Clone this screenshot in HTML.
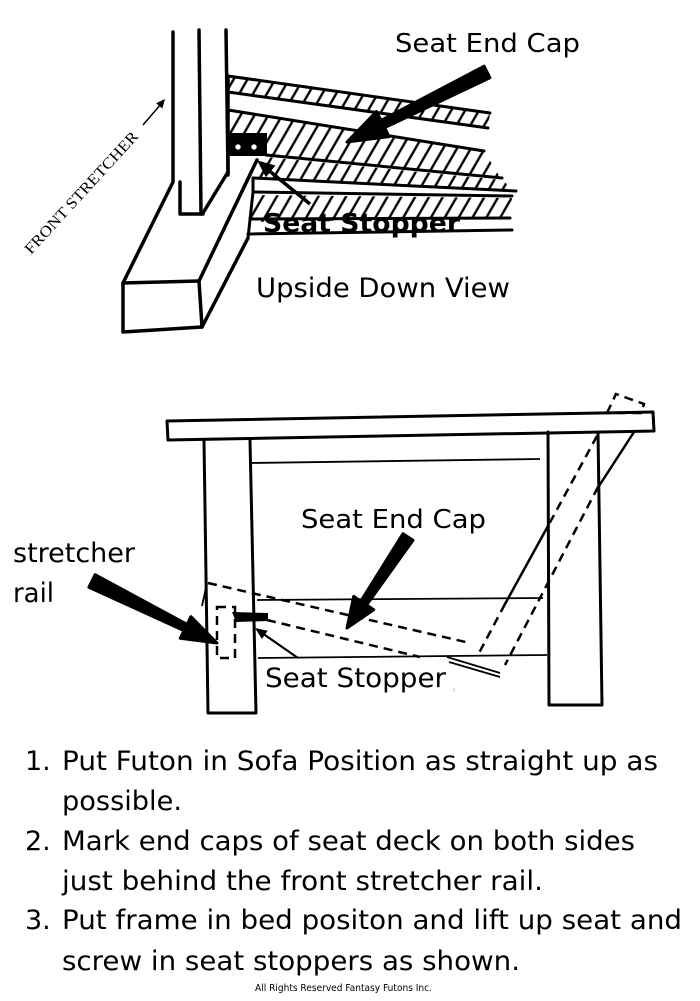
<!DOCTYPE html>
<html><head><meta charset="utf-8">
<style>
html,body{margin:0;padding:0;background:#fff;}
svg{display:block;}
text{font-family:"DejaVu Sans","Liberation Sans",sans-serif;fill:#000;}
</style></head><body>
<svg width="700" height="1001" viewBox="0 0 700 1001" xmlns="http://www.w3.org/2000/svg">
<defs>
<pattern id="h" width="12" height="12" patternUnits="userSpaceOnUse" patternTransform="rotate(30)">
<line x1="2" y1="-1" x2="2" y2="13" stroke="#000" stroke-width="2.4"/>
</pattern>
</defs>
<rect width="700" height="1001" fill="#fff"/>

<!-- ===== TOP DIAGRAM ===== -->
<g fill="url(#h)" stroke="none">
<polygon points="228,76 490,113 488,128 228,92"/>
<polygon points="228,110 484,151 500,177 266,154 228,138"/>
<polygon points="266,157 502,180 515,191 254,178"/>
<polygon points="256,195 512,198 510,218 250,222"/>
</g>
<g stroke="#000" stroke-linecap="round" stroke-linejoin="round" fill="none" stroke-width="3">
<line x1="228" y1="76" x2="490" y2="113"/>
<line x1="228" y1="92" x2="488" y2="128"/>
<line x1="228" y1="110" x2="484" y2="151"/>
<line x1="266" y1="155" x2="502" y2="178"/>
<line x1="253" y1="178" x2="516" y2="191"/>
<line x1="253" y1="192" x2="512" y2="196"/>
<polyline points="253,178 253,192 248,238"/>
<line x1="250" y1="219" x2="510" y2="218"/>
<line x1="248" y1="234" x2="512" y2="230"/>
</g>
<g stroke="#000" stroke-linecap="round" stroke-linejoin="round" fill="none" stroke-width="3.5">
<polyline points="173,32 173,182 123,283"/>
<line x1="199" y1="30" x2="201" y2="214"/>
<polyline points="226,30 228,172 203,213"/>
<polyline points="180,182 180,214 203,214"/>
<polygon points="123,283 199,281 202,327 123,332"/>
<line x1="199" y1="281" x2="257" y2="160"/>
<line x1="202" y1="327" x2="248" y2="238"/>
<line x1="228" y1="76" x2="228" y2="175"/>
</g>
<rect x="227" y="133" width="40" height="23" fill="#000"/>
<circle cx="238" cy="147" r="2.7" fill="#fff"/>
<circle cx="254" cy="147" r="2.7" fill="#fff"/>
<polygon points="347,142 376.5,111.6 381,120.5 484.1,66.2 489.9,77.8 384.6,127.7 389,136.6" fill="#000" stroke="#000" stroke-width="3" stroke-linejoin="round"/>
<line x1="310" y1="204" x2="267" y2="169" stroke="#000" stroke-width="3.5"/>
<polygon points="259,162 273.7,166.1 266.1,175.5" fill="#000" stroke="#000" stroke-width="2"/>
<line x1="143" y1="125" x2="161" y2="104" stroke="#000" stroke-width="1.5"/>
<polygon points="165,99 162.3,108.5 156.1,103.3" fill="#000"/>
<text transform="translate(31,255) rotate(-47.5)" font-size="15.5" style="font-family:'Liberation Serif',serif" textLength="160" lengthAdjust="spacingAndGlyphs">FRONT STRETCHER</text>

<text x="395" y="52" font-size="26" textLength="185" lengthAdjust="spacingAndGlyphs">Seat End Cap</text>
<text x="263" y="232" font-size="26" font-weight="bold" textLength="197" lengthAdjust="spacingAndGlyphs">Seat Stopper</text>
<text x="256" y="297" font-size="27" textLength="254" lengthAdjust="spacingAndGlyphs">Upside Down View</text>

<!-- ===== BOTTOM DIAGRAM ===== -->
<g stroke="#000" stroke-linecap="round" stroke-linejoin="round" fill="none" stroke-width="3">
<polygon points="167,421 653,412 654,431 168,440"/>
<polyline points="204,440 208,713 256,713 250,440"/>
<polyline points="548,432 549,705 602,705 598,432"/>
<line x1="634" y1="432" x2="599" y2="486" stroke-width="2.5"/>
<line x1="548" y1="526" x2="505" y2="604" stroke-width="2.5"/>
</g>
<g stroke="#000" stroke-linecap="butt" fill="none" stroke-width="1.8">
<line x1="250" y1="463" x2="540" y2="459"/>
<line x1="257" y1="600" x2="543" y2="598"/>
<line x1="258" y1="658" x2="547" y2="655"/>
<line x1="447" y1="657" x2="500" y2="673"/>
<line x1="449" y1="662" x2="500" y2="677"/>
<line x1="202" y1="606" x2="207" y2="583"/>
</g>
<g stroke="#000" fill="none" stroke-width="2.5" stroke-dasharray="9 6">
<polygon points="607,413 616,394 644,404 641,413"/>
<line x1="597" y1="436" x2="548" y2="526"/>
<line x1="505" y1="604" x2="478" y2="655"/>
<line x1="598" y1="487" x2="505" y2="665"/>
<line x1="208" y1="583" x2="470" y2="643"/>
<line x1="267" y1="620" x2="420" y2="657"/>
<rect x="217" y="607" width="18" height="51"/>
</g>
<polygon points="232,612 268,613 268,621 236,622" fill="#000"/>
<polygon points="217,643 190.9,616.7 187.2,624.4 95.1,574.7 88.9,587.3 184,630.6 180.3,638.3" fill="#000" stroke="#000" stroke-width="3" stroke-linejoin="round"/>
<polygon points="347,628 353.7,596.4 360.8,601.2 403,533.7 413,540.3 366.6,605 373.7,609.8" fill="#000" stroke="#000" stroke-width="3" stroke-linejoin="round"/>
<line x1="298" y1="658" x2="262" y2="633" stroke="#000" stroke-width="2.2"/>
<polygon points="255,628 267.7,630.8 261.9,639" fill="#000"/>

<text x="301" y="528" font-size="26" textLength="185" lengthAdjust="spacingAndGlyphs">Seat End Cap</text>
<text x="13" y="562" font-size="27" textLength="122" lengthAdjust="spacingAndGlyphs">stretcher</text>
<text x="13" y="602" font-size="27" textLength="41" lengthAdjust="spacingAndGlyphs">rail</text>
<text x="265" y="687" font-size="27" textLength="181" lengthAdjust="spacingAndGlyphs">Seat Stopper</text>
<text x="452" y="690" font-size="12" style="fill:#bbb">,</text>

<!-- ===== INSTRUCTIONS ===== -->
<g font-size="27">
<text x="25" y="770">1.</text>
<text x="62" y="770" textLength="596" lengthAdjust="spacingAndGlyphs">Put Futon in Sofa Position as straight up as</text>
<text x="62" y="810" textLength="120" lengthAdjust="spacingAndGlyphs">possible.</text>
<text x="25" y="850">2.</text>
<text x="62" y="850" textLength="573" lengthAdjust="spacingAndGlyphs">Mark end caps of seat deck on both sides</text>
<text x="62" y="890" textLength="481" lengthAdjust="spacingAndGlyphs">just behind the front stretcher rail.</text>
<text x="25" y="929">3.</text>
<text x="62" y="929" textLength="620" lengthAdjust="spacingAndGlyphs">Put frame in bed positon and lift up seat and</text>
<text x="62" y="970" textLength="458" lengthAdjust="spacingAndGlyphs">screw in seat stoppers as shown.</text>
</g>
<text x="255" y="991" font-size="10" textLength="177" lengthAdjust="spacingAndGlyphs">All Rights Reserved Fantasy Futons Inc.</text>
</svg>
</body></html>
